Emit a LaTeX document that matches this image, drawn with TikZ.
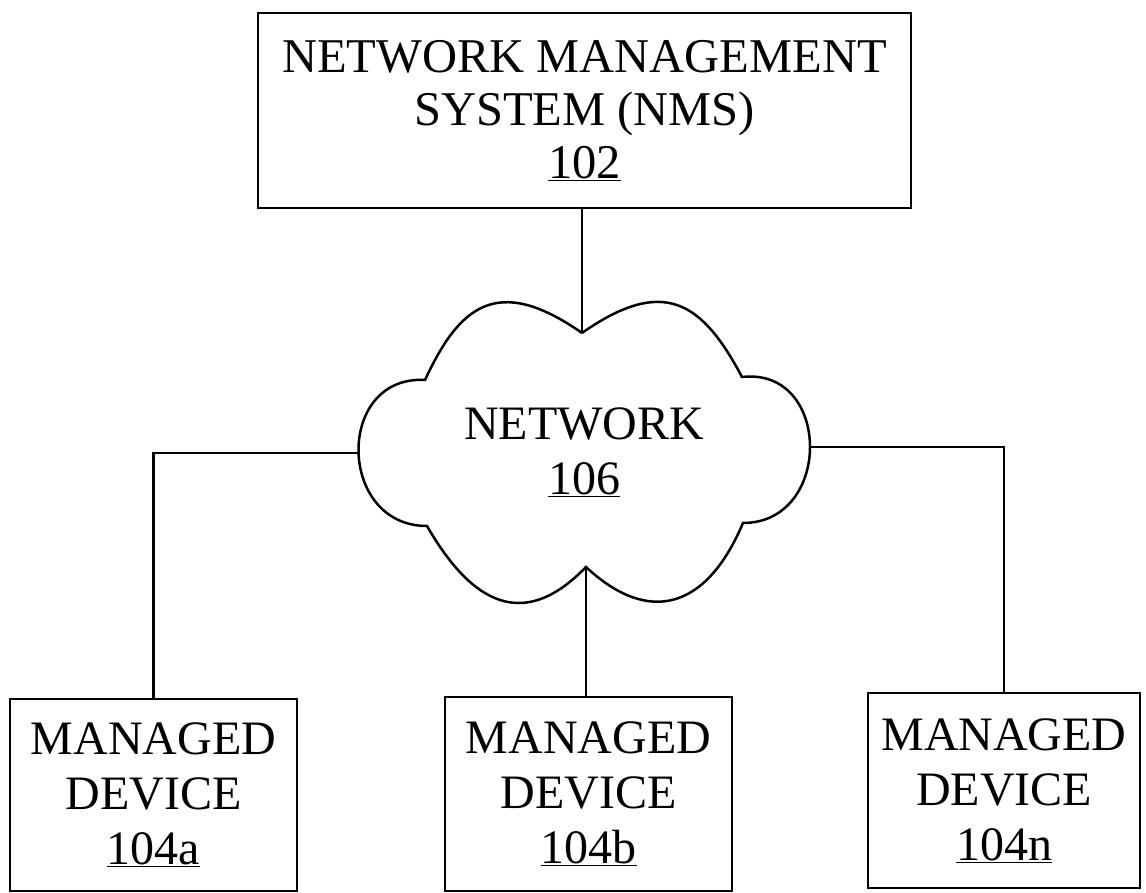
\documentclass[tikz,border=0pt]{standalone}
\usepackage{fontspec}
\setmainfont{Liberation Serif}
\usepackage{tikz}

\newcommand{\refnum}[1]{\underline{#1}}

\tikzset{
  lbl/.style={font=\fontsize{48}{55}\selectfont, align=center, inner sep=0pt},
  unitbox/.style={lbl, draw, line width=2.5pt},
  wire/.style={line width=2.5pt},
}

\begin{document}
\begin{tikzpicture}[x=1pt,y=1pt]
\useasboundingbox (0,0) rectangle (1146,893);

% Management box
\node [unitbox, minimum width=653, minimum height=195, font=\fontsize{48.5}{53}\selectfont] (nms) at (584.5,782.5)
  {NETWORK MANAGEMENT\\ SYSTEM (NMS)\\ \refnum{102}};

% Cloud outline
\coordinate (cT) at (582,560);
\coordinate (cRU) at (742,516);
\coordinate (cR) at (810,446);
\coordinate (cRL) at (743,370);
\coordinate (cB) at (586,326);
\coordinate (cLL) at (427,367);
\coordinate (cL) at (358,440);
\coordinate (cLU) at (425,513);
\draw [wire] (cT)
  .. controls (663.9,617.4) and (702.1,591.1) .. (cRU)
  .. controls (832,526) and (833,370) .. (cRL)
  .. controls (705.9,282.6) and (648.2,268) .. (cB)
  .. controls (523.5,261.3) and (472,289.1) .. (cLL)
  .. controls (337,367) and (335,518) .. (cLU)
  .. controls (458.8,585.5) and (496,620.2) .. (cT);
% Text Node
\node [lbl] (net) at (584,441) {NETWORK\\ \refnum{106}};

% Device boxes
\node [unitbox, minimum width=287, minimum height=192] (deva) at (153.5,98)
  {MANAGED\\ DEVICE\\ \refnum{104a}};
\node [unitbox, minimum width=287, minimum height=194] (devb) at (588.5,99)
  {MANAGED\\ DEVICE\\ \refnum{104b}};
\node [unitbox, minimum width=272, minimum height=195] (devn) at (1004,102.5)
  {MANAGED\\ DEVICE\\ \refnum{104n}};

% Links
\draw [wire] (cT) -- (cT |- nms.south);
\draw [wire] (cL) -| (deva.north);
\draw [wire] (cB) -- (cB |- devb.north);
\draw [wire] (cR) -| (devn.north);

\end{tikzpicture}
\end{document}
